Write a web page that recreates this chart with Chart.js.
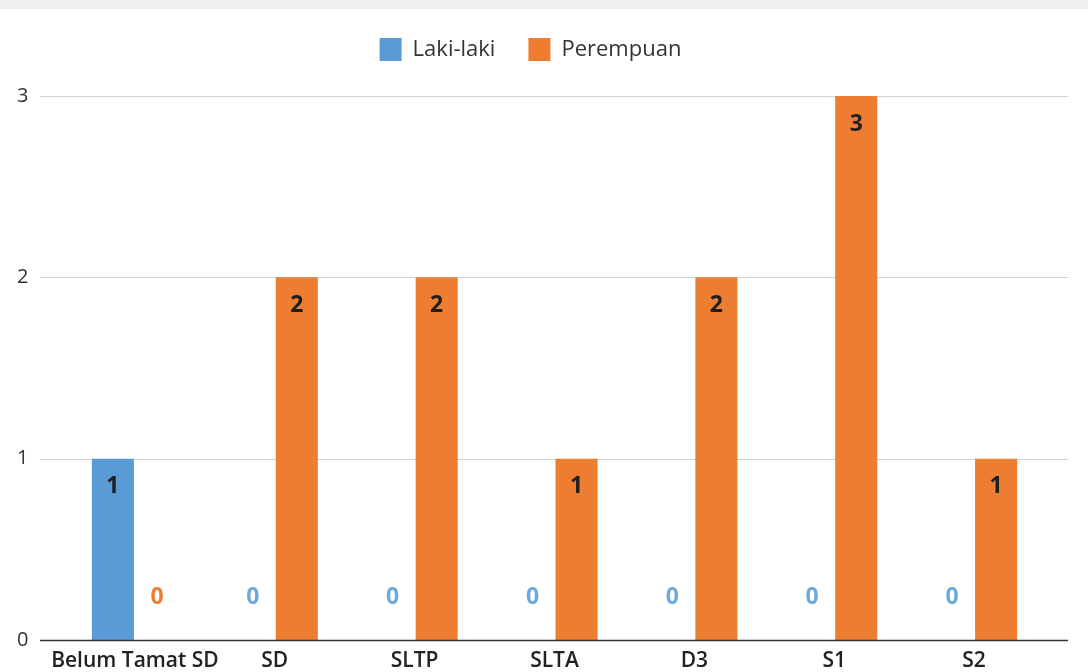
<!DOCTYPE html>
<html lang="id">
<head>
    <meta charset="UTF-8" />
    <title>Pendidikan</title>
    <script src="https://cdn.jsdelivr.net/npm/chart.js"></script>
    <style>
        body { margin: 0; background: #fff; }
        .topbar { position: absolute; left: 0; top: 0; width: 1088px; height: 9px; background: #efefef; }
        .wrap { position: absolute; left: 0; top: 0; width: 1088px; height: 672px; }
    </style>
</head>
<body>
    <div class="topbar"></div>
    <div class="wrap">
        <canvas id="eduChart" width="1088" height="672"></canvas>
    </div>

    <script>
        // data
        const categories = ['Belum Tamat SD', 'SD', 'SLTP', 'SLTA', 'D3', 'S1', 'S2'];
        const lakiLaki = [1, 0, 0, 0, 0, 0, 0];
        const perempuan = [0, 2, 2, 1, 2, 3, 1];
        const yTicks = [0, 1, 2, 3];

        const BLUE = '#5b9bd5';
        const ORANGE = '#ed7d31';
        const FONT = "'Open Sans', sans-serif";

        // extra space under the legend
        const legendGap = {
            id: 'legendGap',
            beforeInit(chart) {
                const fit = chart.legend.fit;
                chart.legend.fit = function () {
                    fit.bind(this)();
                    this.height += 25;
                };
            }
        };

        // grid lines drawn wider than the plot area
        const gridLines = {
            id: 'gridLines',
            beforeDatasetsDraw(chart) {
                const { ctx, scales: { y } } = chart;
                ctx.save();
                ctx.strokeStyle = '#d3d3d3';
                ctx.lineWidth = 1;
                yTicks.forEach(v => {
                    if (v === 0) return;
                    const py = Math.round(y.getPixelForValue(v)) + 0.5;
                    ctx.beginPath();
                    ctx.moveTo(40, py);
                    ctx.lineTo(1068, py);
                    ctx.stroke();
                });
                ctx.restore();
            },
            afterDatasetsDraw(chart) {
                const { ctx, scales: { y } } = chart;
                const py = Math.round(y.getPixelForValue(0)) + 0.5;
                ctx.save();
                ctx.strokeStyle = '#333';
                ctx.lineWidth = 1.5;
                ctx.beginPath();
                ctx.moveTo(40, py);
                ctx.lineTo(1068, py);
                ctx.stroke();
                ctx.restore();
            }
        };

        // value labels
        const valueLabels = {
            id: 'valueLabels',
            afterDatasetsDraw(chart) {
                const ctx = chart.ctx;
                const zeroColors = ['#6fa8dc', ORANGE];
                ctx.save();
                ctx.font = 'bold 23px ' + FONT;
                ctx.textAlign = 'center';
                ctx.textBaseline = 'middle';
                chart.data.datasets.forEach((ds, i) => {
                    const meta = chart.getDatasetMeta(i);
                    meta.data.forEach((bar, j) => {
                        const v = ds.data[j];
                        if (v > 0) {
                            ctx.fillStyle = '#1f1f1f';
                            ctx.fillText(v, bar.x, bar.y + 28);
                        } else {
                            ctx.fillStyle = zeroColors[i];
                            ctx.fillText(v, bar.x, bar.base - 43);
                        }
                    });
                });
                ctx.restore();
            }
        };

        new Chart(document.getElementById('eduChart'), {
            type: 'bar',
            data: {
                labels: categories,
                datasets: [
                    { label: 'Laki-laki', data: lakiLaki, backgroundColor: BLUE },
                    { label: 'Perempuan', data: perempuan, backgroundColor: ORANGE }
                ]
            },
            options: {
                responsive: false,
                devicePixelRatio: 1,
                animation: false,
                layout: { padding: { top: 5, left: 17, right: 44, bottom: 0 } },
                categoryPercentage: 0.63,
                barPercentage: 0.955,
                plugins: {
                    legend: {
                        position: 'top',
                        labels: {
                            boxWidth: 22,
                            boxHeight: 23,
                            padding: 33,
                            color: '#333',
                            font: { family: FONT, size: 22 }
                        }
                    },
                    tooltip: { enabled: false }
                },
                scales: {
                    x: {
                        grid: { display: false, drawTicks: false },
                        border: { display: false },
                        ticks: {
                            color: '#222',
                            padding: 8,
                            maxRotation: 0,
                            autoSkip: false,
                            font: { family: FONT, size: 21, weight: '600' }
                        },
                        afterFit(scale) { scale.height = 32; }
                    },
                    y: {
                        min: 0,
                        max: 3,
                        grid: { display: false, drawTicks: false },
                        border: { display: false },
                        ticks: {
                            stepSize: 1,
                            color: '#333',
                            padding: 0,
                            crossAlign: 'far',
                            font: { family: FONT, size: 20 }
                        },
                        afterFit(scale) { scale.width = 48; }
                    }
                }
            },
            plugins: [legendGap, gridLines, valueLabels]
        });
    </script>
</body>
</html>
